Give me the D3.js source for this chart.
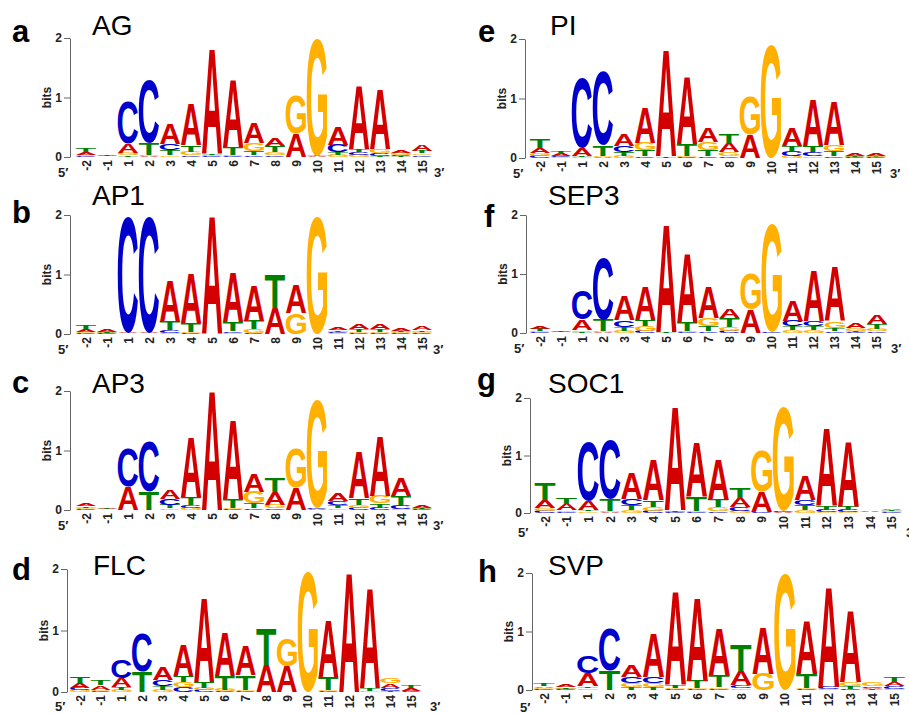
<!DOCTYPE html>
<html><head><meta charset="utf-8">
<script src="https://cdn.jsdelivr.net/npm/d3@7"></script>
<style>body{margin:0;background:#fff}svg{display:block}</style>
</head><body>
<script>
// Positions and letters
const POSITIONS = ["-2","-1","1","2","3","4","5","6","7","8","9","10","11","12","13","14","15"];
const LETTERS = ["A","C","G","T"];
const PANEL_LETTERS = ["a","b","c","d","e","f","g","h"];
const TF_NAMES = ["AG","AP1","AP3","FLC","PI","SEP3","SOC1","SVP"];
const Y_TICKS = [0,1,2];

// Information content (bits) per position, order [A, C, G, T]
const AG = [[.05,.02,.02,.07],[.01,.005,.005,.01],[.15,.70,.04,.03],[.02,1.06,.02,.20],[.34,.11,.03,.08],[.69,.03,.06,.11],[1.76,.01,.02,.03],[1.14,.02,.02,.13],[.35,.03,.13,.07],[.12,.03,.05,.10],[.40,0,.64,0],[.01,0,1.96,.01],[.30,.12,.04,.05],[1.07,.05,.04,.05],[1.0,.04,.07,.02],[.05,.02,.04,.01],[.10,.03,.03,.04]];
const AP1 = [[.04,.02,.02,.06],[.04,.01,.01,.02],[.01,1.96,.005,.005],[.01,1.96,.005,.005],[.70,.04,.02,.15],[.82,.02,.02,.15],[1.99,0,0,.005],[.83,.03,.02,.15],[.58,.02,.06,.14],[.43,0,0,.57],[.48,0,.35,0],[0,.005,1.97,0],[.04,.02,.01,.03],[.09,.02,.02,.04],[.09,.02,.02,.04],[.05,.01,.02,.02],[.07,.01,.02,.03]];
const AP3 = [[.05,.01,.02,.03],[.02,.005,.005,.01],[.39,.63,0,0],[0,.85,0,.31],[.15,.10,.03,.06],[1.0,.05,.04,.13],[2.0,0,0,0],[1.33,.02,.02,.14],[.30,.03,.20,.08],[.21,.03,.06,.23],[.37,0,.66,0],[.01,.02,1.82,0],[.13,.07,.03,.05],[.78,.04,.05,.11],[1.0,.04,.12,.07],[.30,.06,.02,.15],[.03,.01,.01,.01]];
const FLC = [[.08,.04,.03,.10],[.07,.02,.02,.08],[.15,.30,.03,.05],[0,.63,0,.33],[.21,.10,.04,.06],[.50,.08,.08,.10],[1.37,.03,.03,.10],[.72,.01,.03,.22],[.49,.01,.02,.24],[.44,0,0,.58],[.41,0,.44,0],[0,0,1.94,0],[.93,.01,.02,.21],[1.94,0,0,0],[1.62,0,.01,.05],[.07,.05,.08,.02],[.04,.02,0,.045]];
const PI = [[.08,.04,.04,.16],[.04,.02,.01,.045],[.13,1.17,.02,.02],[.02,1.23,.02,.18],[.20,.11,.04,.06],[.59,.03,.12,.10],[1.80,0,.005,.03],[1.14,.01,.02,.20],[.23,.03,.14,.10],[.15,.03,.07,.16],[.40,0,.63,0],[0,0,1.91,0],[.30,.08,.04,.09],[.79,.07,.03,.10],[.74,.03,.10,.09],[.03,.01,.01,.01],[.04,.01,.02,.01]];
const SEP3 = [[.05,.01,.02,.04],[.01,.005,.005,.01],[.18,.50,.03,.02],[.01,1.05,.02,.20],[.42,.12,.04,.06],[.58,.04,.08,.10],[1.82,0,.005,.02],[1.16,.02,.02,.15],[.53,.03,.14,.08],[.16,.04,.06,.15],[.39,0,.60,0],[0,.01,1.83,0],[.35,.10,.05,.06],[.85,.08,.05,.07],[.92,.03,.12,.05],[.08,.02,.05,.02],[.16,.03,.04,.08]];
const SOC1 = [[.14,.04,.05,.28],[.10,.02,.03,.11],[.15,1.02,.03,.03],[.02,1.03,.02,.20],[.45,.12,.05,.08],[.70,.04,.07,.12],[1.80,.01,.01,.03],[.94,.02,.02,.24],[.70,.03,.07,.13],[.16,.06,.04,.18],[.36,.02,.70,0],[.01,.02,1.82,0],[.42,.10,.05,.08],[1.36,.04,.02,.07],[1.13,.04,.02,.07],[.01,.005,.005,.005],[.03,.02,.02,.02]];
const SVP = [[.03,.01,.02,.04],[.04,.01,.01,.03],[.22,.30,.03,.03],[0,.72,0,.34],[.20,.12,.06,.05],[.75,.10,.07,.05],[1.60,.01,.02,.05],[1.42,.01,.02,.12],[.80,.02,.03,.20],[.25,.05,.03,.45],[.80,0,.28,0],[0,0,1.98,0],[.90,.01,.02,.24],[1.72,.04,.01,0],[1.22,.02,.07,.04],[.03,.03,.06,.01],[.07,.05,.02,.09]];

const PANEL_DATA = [AG, AP1, AP3, FLC, PI, SEP3, SOC1, SVP];

// Layout (pixel geometry per panel)
const LAYOUT = [
  {ax:70, y0:157, y2:38, c0:86, step:21, lx:12, ly:42, tx:92, ty:35, p5y:177, p3x:434},
  {ax:70, y0:334, y2:215, c0:86, step:21, lx:12, ly:223, tx:92, ty:205, p5y:354, p3x:433},
  {ax:70, y0:510, y2:391, c0:86, step:21, lx:12, ly:393, tx:92, ty:393, p5y:530, p3x:433},
  {ax:67, y0:692, y2:569, c0:80, step:20.7, lx:12, ly:580, tx:93, ty:575, p5y:711, p3x:430},
  {ax:525, y0:158, y2:39, c0:540, step:21, lx:478, ly:42, tx:550, ty:35, p5y:178, p3x:890},
  {ax:526, y0:333, y2:215, c0:540, step:21.06, lx:484, ly:227, tx:548, ty:205, p5y:353, p3x:891},
  {ax:530, y0:513, y2:398, c0:545, step:21.67, lx:477, ly:390, tx:548, ty:393, p5y:537, p3x:906},
  {ax:532, y0:690, y2:573, c0:544, step:21.9, lx:478, ly:582, tx:548, ty:575, p5y:712, p3x:912}
];

const COLORS = {A:"#d40000", C:"#0000cc", G:"#ffb000", T:"#008000"};
const LOGO_FONT = "'Liberation Sans', Arial, sans-serif";
const LABEL_FONT = "'Liberation Sans', Arial, sans-serif";

// Measure tight glyph ink boxes
const cv = document.createElement("canvas");
const ctx = cv.getContext("2d");
ctx.font = "bold 100px 'Liberation Sans'";
const GLYPH = {};
LETTERS.forEach(l => {
  const m = ctx.measureText(l);
  GLYPH[l] = {left:m.actualBoundingBoxLeft, right:m.actualBoundingBoxRight, asc:m.actualBoundingBoxAscent, desc:m.actualBoundingBoxDescent};
});

const svg = d3.select("body").append("svg").attr("width",909).attr("height",714);

PANEL_DATA.forEach((data, i) => {
  const L = LAYOUT[i];
  const g = svg.append("g");
  const y = d3.scaleLinear().domain([0,2]).range([L.y0, L.y2]);
  const x = d3.scalePoint().domain(POSITIONS).range([L.c0, L.c0 + L.step*(POSITIONS.length-1)]);
  const w = L.step*0.97;

  // letters
  data.forEach((vals, j) => {
    const items = LETTERS.map((l,k)=>({l, v:vals[k]})).filter(d=>d.v>0).sort((a,b)=>a.v-b.v);
    let cum = 0;
    const cx = x(POSITIONS[j]);
    items.forEach(it => {
      const yb = y(cum), yt = y(cum+it.v);
      cum += it.v;
      const h = yb - yt;
      if (h < 0.4) return;
      const gm = GLYPH[it.l];
      const gw = gm.left + gm.right, gh = gm.asc + gm.desc;
      g.append("text")
        .attr("x",0).attr("y",0)
        .attr("font-family", LOGO_FONT).attr("font-weight","bold").attr("font-size",100)
        .attr("fill", COLORS[it.l])
        .attr("transform", `translate(${cx - w/2},${yt}) scale(${w/gw},${h/gh}) translate(${gm.left},${gm.asc})`)
        .text(it.l);
    });
  });

  // y axis
  const axis = d3.axisLeft(y).tickValues(Y_TICKS).tickFormat(d3.format("d")).tickSize(6).tickSizeOuter(0).tickPadding(2);
  const ag = g.append("g").attr("transform",`translate(${L.ax},0)`).call(axis);
  ag.select(".domain").attr("stroke","#666");
  ag.selectAll(".tick line").attr("stroke","#666");
  ag.selectAll(".tick text").attr("font-family",LABEL_FONT).attr("font-weight","bold").attr("font-size",12).attr("fill","#222");

  g.append("text")
    .attr("transform",`translate(${L.ax-19},${(L.y0+L.y2)/2}) rotate(-90)`)
    .attr("text-anchor","middle")
    .attr("font-family",LABEL_FONT).attr("font-weight","bold").attr("font-size",12)
    .attr("fill","#222").text("bits");

  // x labels
  g.selectAll("text.pos").data(POSITIONS).enter().append("text")
    .attr("class","pos")
    .attr("transform", d => `translate(${x(d)+4.5},${L.y0+3}) rotate(-90)`)
    .attr("text-anchor","end")
    .attr("font-family",LABEL_FONT).attr("font-weight","bold").attr("font-size",12)
    .attr("fill","#222").text(d=>d);

  g.append("text").attr("x", L.ax-12).attr("y", L.p5y)
    .attr("font-family",LABEL_FONT).attr("font-weight","bold").attr("font-size",13)
    .attr("fill","#222").text("5\u2032");
  g.append("text").attr("x", L.p3x).attr("y", L.p5y)
    .attr("font-family",LABEL_FONT).attr("font-weight","bold").attr("font-size",13)
    .attr("fill","#222").text("3\u2032");

  // panel letter and title
  g.append("text").attr("x", L.lx).attr("y", L.ly)
    .attr("font-family",LABEL_FONT).attr("font-weight","bold").attr("font-size",31)
    .attr("fill","#000").text(PANEL_LETTERS[i]);
  g.append("text").attr("x", L.tx).attr("y", L.ty)
    .attr("font-family",LABEL_FONT).attr("font-size",28)
    .attr("fill","#000").text(TF_NAMES[i]);
});
</script>
</body></html>
